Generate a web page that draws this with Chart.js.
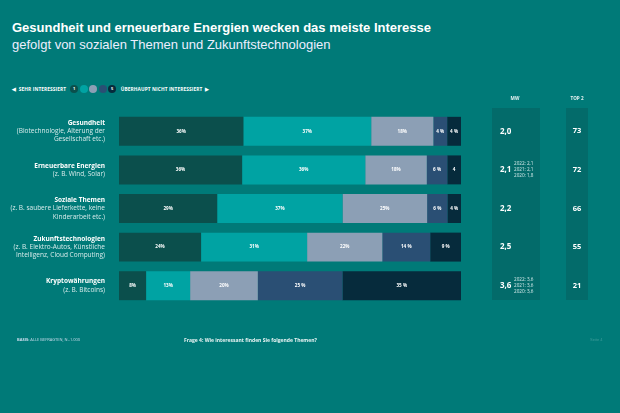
<!DOCTYPE html>
<html><head><meta charset="utf-8">
<script src="https://cdn.jsdelivr.net/npm/chart.js@4"></script>
<style>
html,body{margin:0;padding:0;background:#007a78;width:620px;height:413px;overflow:hidden;font-family:"Liberation Sans",Arial,sans-serif;color:#fff}
#wrap{position:relative;width:620px;height:413px}
canvas{position:absolute;left:0;top:0}
.t1{position:absolute;left:12px;top:20px;font-size:13px;font-weight:bold;white-space:nowrap}
.t2{position:absolute;left:12px;top:37px;font-size:13px;white-space:nowrap;color:#eef}
.legend{position:absolute;left:12px;top:85px;font-size:4.8px;font-weight:bold;font-family:"Open Sans",sans-serif;display:flex;align-items:center;white-space:nowrap;letter-spacing:0.1px}
.dot{display:inline-block;width:8px;height:8px;border-radius:50%;margin-right:1.5px;font-size:4px;text-align:center;line-height:8px}
.foot1{position:absolute;left:17px;top:337px;font-size:4px;font-family:"Open Sans",sans-serif;color:#cde}
.foot2{position:absolute;left:184px;top:337px;font-size:5px;font-family:"Open Sans",sans-serif;font-weight:bold;color:#e8f4f4}
.foot3{position:absolute;left:590px;top:337px;font-size:4px;color:#3d9b99}
</style></head>
<body><div id="wrap">
<div class="t1">Gesundheit und erneuerbare Energien wecken das meiste Interesse</div>
<div class="t2">gefolgt von sozialen Themen und Zukunftstechnologien</div>
<div class="legend"><span style="margin-right:4px">◀&nbsp; SEHR INTERESSIERT</span>
<span class="dot" style="background:#0b4f4c">1</span><span class="dot" style="background:#00a3a3"></span><span class="dot" style="background:#8c9fb5"></span><span class="dot" style="background:#2a4f74"></span><span class="dot" style="background:#062b3c">5</span>
<span style="margin-left:3px">ÜBERHAUPT NICHT INTERESSIERT &nbsp;▶</span></div>
<canvas id="c" width="620" height="413"></canvas>
<div class="foot1"><b>BASIS:</b> ALLE BEFRAGTEN, N=1.000</div>
<div class="foot2">Frage 4: Wie interessant finden Sie folgende Themen?</div>
<div class="foot3">Seite 4</div>
</div>
<script>
const categories = ["Gesundheit","Erneuerbare Energien","Soziale Themen","Zukunftstechnologien","Kryptowährungen"];
const categoryNotes = [
  ["(Biotechnologie, Alterung der","Gesellschaft etc.)"],
  ["(z. B. Wind, Solar)"],
  ["(z. B. saubere Lieferkette, keine","Kinderarbeit etc.)"],
  ["(z. B. Elektro-Autos, Künstliche","Intelligenz, Cloud Computing)"],
  ["(z. B. Bitcoins)"]
];
const seriesNames = ["1 (sehr interessiert)","2","3","4","5 (überhaupt nicht interessiert)"];
const level1 = [36,36,29,24,8];
const level2 = [37,36,37,31,13];
const level3 = [18,18,25,22,20];
const level4 = [4,6,6,14,25];
const level5 = [4,4,4,9,35];
const labels1 = ["36%","36%","29%","24%","8%"];
const labels2 = ["37%","36%","37%","31%","13%"];
const labels3 = ["18%","18%","25%","22%","20%"];
const labels4 = ["4 %","6 %","6 %","14 %","25 %"];
const labels5 = ["4 %","4","4 %","9 %","35 %"];
const meanValues = ["2,0","2,1","2,2","2,5","3,6"];
const meanHistory = [null,["2022: 2,1","2021: 2,1","2020: 1,8"],null,null,["2022: 3,6","2021: 3,6","2020: 3,6"]];
const top2Values = [73,72,66,55,21];

const colors = ["#0b4f4c","#00a3a3","#8c9fb5","#2a4f74","#062b3c"];
const raw = [level1,level2,level3,level4,level5];
const lbls = [labels1,labels2,labels3,labels4,labels5];
const totals = categories.map((_,i)=>raw.reduce((s,a)=>s+a[i],0));
const datasets = raw.map((arr,k)=>({
  label: seriesNames[k],
  data: arr.map((v,i)=>v/totals[i]*100),
  backgroundColor: colors[k],
  borderWidth: 0,
  categoryPercentage: 1,
  barPercentage: 0.75
}));

const deco = {
  id:'deco',
  beforeDatasetsDraw(chart){
    const ctx=chart.ctx;
    ctx.save();
    ctx.fillStyle='#036b6a';
    ctx.fillRect(492,108,48,192);
    ctx.fillRect(566,108,22,192);
    ctx.fillStyle='#e8f4f4';
    ctx.font='bold 4.6px "Open Sans", sans-serif';
    ctx.textAlign='center';ctx.textBaseline='middle';
    ctx.fillText('MW',515,99);
    ctx.fillText('TOP 2',577,99);
    ctx.restore();
  },
  afterDatasetsDraw(chart){
    const ctx=chart.ctx, y=chart.scales.y;
    ctx.save();
    ctx.textAlign='center';ctx.textBaseline='middle';
    ctx.fillStyle='#ffffff';
    ctx.font='bold 4.6px "Open Sans", sans-serif';
    chart.data.datasets.forEach((ds,k)=>{
      chart.getDatasetMeta(k).data.forEach((bar,i)=>{
        const cx=(bar.x+bar.base)/2;
        ctx.fillText(lbls[k][i],cx,bar.y);
      });
    });
    categories.forEach((c,i)=>{
      const cy=y.getPixelForValue(i);
      const lines=[c].concat(categoryNotes[i]);
      const lh=8.3;
      const start=cy-(lines.length-1)*lh/2;
      ctx.textAlign='right';
      lines.forEach((t,j)=>{
        ctx.font=(j===0?'bold ':'')+'6.5px "Open Sans", sans-serif';
        ctx.fillStyle=j===0?'#ffffff':'#d8ecec';
        ctx.fillText(t,105,start+j*lh);
      });
      ctx.textAlign='left';
      ctx.font='bold 8px "Open Sans", sans-serif';
      ctx.fillStyle='#ffffff';
      ctx.fillText(meanValues[i],500,cy);
      if(meanHistory[i]){
        ctx.font='4.6px "Open Sans", sans-serif';
        ctx.fillStyle='#d8ecec';
        meanHistory[i].forEach((t,j)=>ctx.fillText(t,514,cy+(j-1)*6));
      }
      ctx.textAlign='center';
      ctx.font='bold 7.5px "Open Sans", sans-serif';
      ctx.fillStyle='#ffffff';
      ctx.fillText(String(top2Values[i]),577,cy);
    });
    ctx.restore();
  }
};

new Chart(document.getElementById('c'),{
  type:'bar',
  data:{labels:categories,datasets},
  options:{
    indexAxis:'y',
    responsive:false,
    animation:false,
    layout:{padding:{left:119,right:159,top:112,bottom:108}},
    plugins:{legend:{display:false},tooltip:{enabled:false}},
    scales:{
      x:{stacked:true,min:0,max:100,display:false},
      y:{stacked:true,display:false}
    }
  },
  plugins:[deco]
});
</script>
</body></html>
